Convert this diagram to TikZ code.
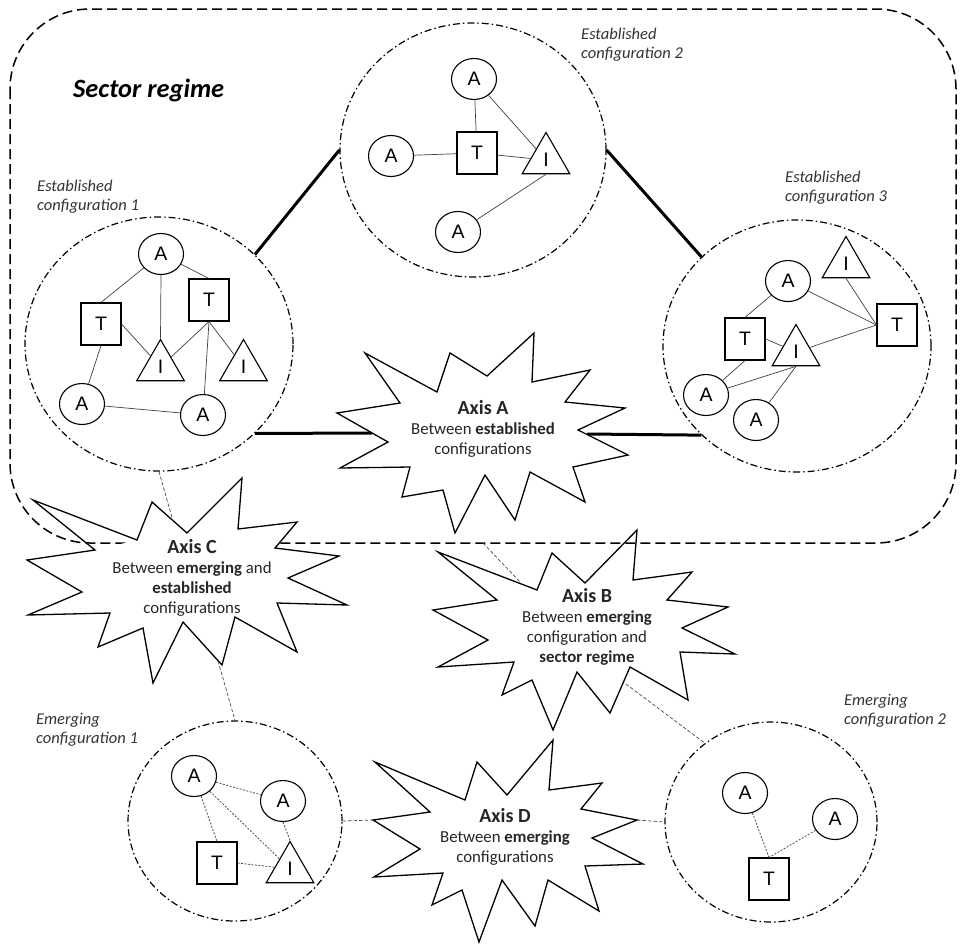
\documentclass[tikz,border=0pt]{standalone}
\usepackage{fontspec}
\setmainfont{Carlito}
\newfontfamily\letterfont{Liberation Sans}
\usetikzlibrary{shapes.geometric}
\newcommand\axistitlefont{\fontsize{20}{20}\selectfont\bfseries}
\begin{document}
\begin{tikzpicture}[x=1pt,y=-1pt,
  letter/.style={font=\letterfont\fontsize{19.5}{22}\selectfont},
  anode/.style={ellipse,draw,line width=1.1pt,minimum width=45pt,minimum height=41pt,inner sep=0pt,fill=white,letter},
  tnode/.style={rectangle,draw,line width=1.1pt,minimum width=40pt,minimum height=42pt,inner sep=0pt,fill=white,letter},
  inode/.style={regular polygon,regular polygon sides=3,draw,line width=1.1pt,minimum size=55pt,inner sep=0pt,fill=white,letter},
  confcirc/.style={ellipse,draw,line width=1.2pt,inner sep=0pt,dash pattern=on 7pt off 3pt on 1.5pt off 3pt},
  edge/.style={line width=0.7pt,black!75},
  dotedge/.style={line width=0.8pt,black!70,dash pattern=on 2pt off 1.5pt},
  thickline/.style={line width=3pt,line cap=butt},
  conn/.style={line width=0.7pt,black!70,dash pattern=on 3.5pt off 2pt},
  regime/.style={line width=1.5pt,dash pattern=on 10pt off 5pt,rounded corners=80pt},
  star/.style={line width=1.3pt,fill=white,line join=miter},
  conflabel/.style={font=\itshape\fontsize{16.5}{19}\selectfont,align=left,inner sep=0pt,anchor=north west,text=black!80},
  axistext/.style={font=\fontsize{16.8}{20}\selectfont,align=center,inner sep=0pt,text=black!85}
]
\useasboundingbox (0,0) rectangle (960,943);

% configuration containers
\node[confcirc,minimum width=268pt,minimum height=254pt] (e1) at (159,344) {};
\node[confcirc,minimum width=266pt,minimum height=254pt] (e2) at (473,150) {};
\node[confcirc,minimum width=268pt,minimum height=252pt] (e3) at (797,346) {};
\node[confcirc,minimum width=214pt,minimum height=200pt] (m1) at (235,821) {};
\node[confcirc,minimum width=212pt,minimum height=200pt] (m2) at (771,822) {};

% star anchor coordinates
\coordinate (sAw) at (372,433);
\coordinate (sAe) at (587,434);
\coordinate (sCn) at (173,521);
\coordinate (sCs) at (218,661);
\coordinate (rb) at (483,543);
\coordinate (sBnw) at (522,584);
\coordinate (sBse) at (626,684);
\coordinate (sDw) at (373,820);
\coordinate (sDe) at (637,820);

% thick links between established configurations
\draw[thickline] (e1.43) -- (e2.180);
\draw[thickline] (e2.0) -- (e3.137);
\draw[thickline] (e1.317) -- (sAw);
\draw[thickline] (sAe) -- (e3.223);

% stars A and B
\draw[star] (365,353) -- (437,392) -- (450,353) -- (487,376) -- (534,333) -- (532,382) -- (590,370) -- (565,402) -- (625,408) -- (578,430) -- (628,455) -- (573,467) -- (585,502) -- (530,472) -- (515,520) -- (485,475) -- (455,533) -- (443,490) -- (402,497) -- (410,467) -- (340,468) -- (388,442) -- (337,413) -- (400,403) -- cycle;
\draw[star] (438,552) -- (537,590) -- (552,553) -- (585,583) -- (637,530) -- (633,580) -- (692,572) -- (667,600) -- (728,607) -- (682,628) -- (735,654) -- (680,652) -- (688,700) -- (630,667) -- (610,713) -- (577,672) -- (553,730) -- (532,680) -- (502,695) -- (514,662) -- (438,667) -- (488,640) -- (433,610) -- (497,600) -- cycle;

% sector regime
\draw[regime] (10,9) rectangle (956,543);

% star C
\draw[star] (33,500) -- (137,540) -- (152,502) -- (187,533) -- (242,478) -- (238,529) -- (297,522) -- (275,548) -- (339,556) -- (288,578) -- (347,605) -- (277,603) -- (297,652) -- (235,617) -- (222,665) -- (183,622) -- (153,683) -- (143,628) -- (98,647) -- (110,613) -- (28,615) -- (82,592) -- (27,560) -- (95,550) -- cycle;
\begin{scope}
\clip (33,500) -- (137,540) -- (95,550) -- cycle;
\draw[regime] (10,9) rectangle (956,543);
\end{scope}

% star D
\draw[star] (375,762) -- (465,800) -- (477,762) -- (507,795) -- (553,740) -- (549,790) -- (602,783) -- (581,809) -- (637,820) -- (592,838) -- (643,864) -- (585,866) -- (599,911) -- (548,880) -- (535,926) -- (502,880) -- (479,942) -- (462,890) -- (432,905) -- (443,873) -- (374,877) -- (420,849) -- (373,820) -- (430,812) -- cycle;

% thin dashed connectors
\draw[conn] (e1.south) -- (sCn);
\draw[conn] (sCs) -- (m1.north);
\draw[conn] (rb) -- (sBnw);
\draw[conn] (sBse) -- (m2.130);
\draw[conn] (m1.east) -- (sDw);
\draw[conn] (sDe) -- (m2.west);

% established configuration 1
\node[anode] (c1a1) at (161,254) {A};
\node[tnode] (c1t1) at (101,324) {T};
\node[tnode] (c1t2) at (209,300) {T};
\node[inode] (c1i1) at (160.5,367) {I};
\node[inode] (c1i2) at (243.5,367) {I};
\node[anode] (c1a2) at (82,404) {A};
\node[anode] (c1a3) at (203,415) {A};
\draw[edge] (c1a1) -- (c1t1.north);
\draw[edge] (c1a1.south) -- (c1i1.north);
\draw[edge] (c1a1) -- (c1t2.north);
\draw[edge] (c1t1.east) -- (c1i1);
\draw[edge] (c1t1.south) -- (c1a2);
\draw[edge] (c1t2.south) -- (c1i1);
\draw[edge] (c1t2.south) -- (c1a3);
\draw[edge] (c1t2.south) -- (c1i2);
\draw[edge] (c1a2) -- (c1a3);

% established configuration 2
\node[anode] (c2a1) at (474,79) {A};
\node[anode] (c2a2) at (391,156) {A};
\node[tnode] (c2t) at (477,153) {T};
\node[inode] (c2i) at (546,160) {I};
\node[anode] (c2a3) at (458,232) {A};
\draw[edge] (c2a1) -- (c2t);
\draw[edge] (c2a1) -- (c2i);
\draw[edge] (c2a2) -- (c2t);
\draw[edge] (c2t) -- (c2i);
\draw[edge] (c2a3) -- (c2i.south);

% established configuration 3
\node[inode] (c3i1) at (846,264) {I};
\node[anode] (c3a1) at (788,281) {A};
\node[tnode] (c3t2) at (897,325) {T};
\node[tnode] (c3t1) at (745,339) {T};
\node[inode] (c3i2) at (796,352) {I};
\node[anode] (c3a2) at (706,395) {A};
\node[anode] (c3a3) at (756,420) {A};
\draw[edge] (c3a1) -- (c3t2.west);
\draw[edge] (c3i1.south) -- (c3t2.west);
\draw[edge] (c3i2) -- (c3t2.west);
\draw[edge] (c3t1.north) -- (c3a1);
\draw[edge] (c3t1.east) -- (c3i2);
\draw[edge] (c3t1.south) -- (c3a2);
\draw[edge] (c3i2.south) -- (c3a2);
\draw[edge] (c3i2.south) -- (c3a3);

% emerging configuration 1
\node[anode] (m1a1) at (194,776) {A};
\node[anode] (m1a2) at (283,801) {A};
\node[tnode] (m1t) at (217,863) {T};
\node[inode] (m1i) at (290,869) {I};
\draw[dotedge] (m1a1) -- (m1a2);
\draw[dotedge] (m1a1) -- (m1t.north);
\draw[dotedge] (m1a1) -- (m1i);
\draw[dotedge] (m1a2.south) -- (m1i.north);
\draw[dotedge] (m1t.east) -- (m1i);

% emerging configuration 2
\node[anode] (m2a1) at (745,793) {A};
\node[anode] (m2a2) at (835,819) {A};
\node[tnode] (m2t) at (769,879) {T};
\draw[dotedge] (m2a1) -- (m2t.north);
\draw[dotedge] (m2a2) -- (m2t.north);

% labels
\node[font=\bfseries\itshape\fontsize{26.4}{30}\selectfont,anchor=base west,inner sep=0pt] (regimelabel) at (73,97) {Sector regime};
\node[conflabel] (l1) at (37,180) {Established\\configuration 1};
\node[conflabel] (l2) at (581,28) {Established\\configuration 2};
\node[conflabel] (l3) at (785,171) {Established\\configuration 3};
\node[conflabel] (l4) at (36,713) {Emerging\\configuration 1};
\node[conflabel] (l5) at (844,694) {Emerging\\configuration 2};

% axis texts
\node[axistext] (ta) at (483,429) {{\axistitlefont Axis A}\\Between \textbf{established}\\configurations};
\node[axistext] (tc) at (192,578) {{\axistitlefont Axis C}\\Between \textbf{emerging} and\\\textbf{established}\\configurations};
\node[axistext] (tb) at (587,627) {{\axistitlefont Axis B}\\Between \textbf{emerging}\\configuration and\\\textbf{sector regime}};
\node[axistext] (td) at (505,837) {{\axistitlefont Axis D}\\Between \textbf{emerging}\\configurations};
\end{tikzpicture}
\end{document}
